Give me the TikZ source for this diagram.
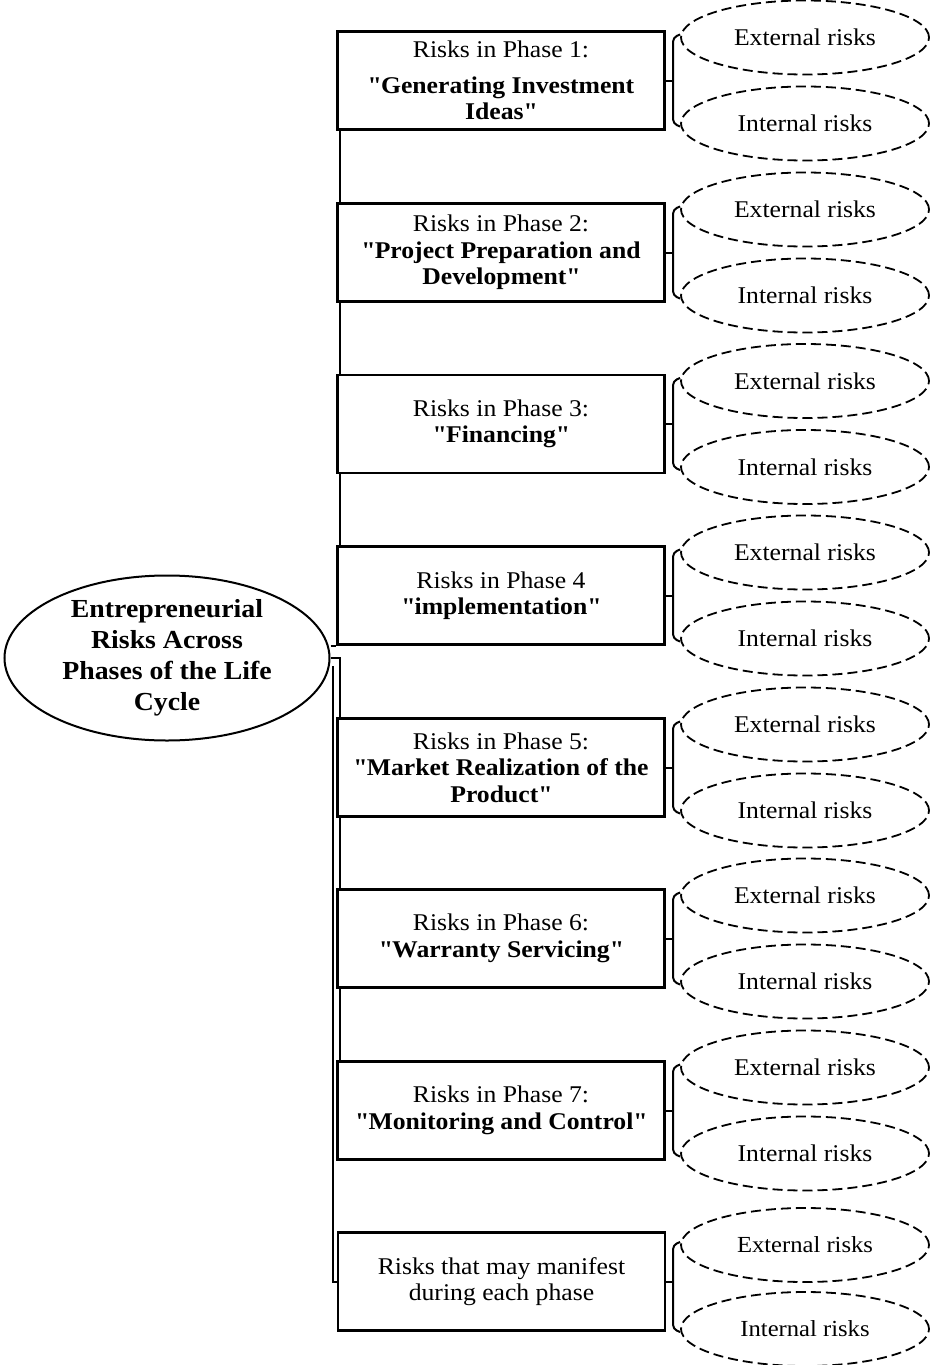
\documentclass[tikz,border=0pt]{standalone}
\usepackage{fontspec}
\setmainfont[FakeStretch=1.07]{Liberation Serif}
\usetikzlibrary{shapes.geometric,calc}
\newcommand\fsbox{\fontsize{24}{26.5}\selectfont}
\newcommand\fsmain{\fontsize{26}{31}\selectfont\bfseries}
\newcommand\fsrisk{\fontsize{24}{26}\selectfont}
\newcommand\fsriskb{\fontsize{23}{26}\selectfont}
\newcommand\dq{\XeTeXglyph\XeTeXcharglyph"22\relax}
\tikzset{
  phasebox/.style={draw, line width=2.2pt, minimum width=327pt, minimum height=98pt, inner sep=0pt, align=center, font=\fsbox},
  riskell/.style={draw, ellipse, dash pattern=on 10pt off 5pt, line width=1.8pt, minimum width=248pt, minimum height=74pt, inner sep=0pt, font=\fsrisk},
  mainell/.style={draw, ellipse, line width=2pt, minimum width=325pt, minimum height=165pt, inner sep=0pt, align=center, font=\fsmain},
  conn/.style={line width=2pt},
  br/.style={line width=2pt, rounded corners=4pt}
}
\begin{document}
\begin{tikzpicture}[x=1pt,y=-1pt]
\clip (0,0) rectangle (933,1365);
\fill[white] (0,0) rectangle (933,1365);

\node[mainell] (main) at (167,658) {Entrepreneurial\\Risks Across\\Phases of the Life\\Cycle};

\node[phasebox] (b1) at (501,80.5) {Risks in Phase 1:\\[9pt]\textbf{\dq Generating Investment}\\\textbf{Ideas\dq}};
\node[phasebox] (b2) at (501,252.5) {Risks in Phase 2:\\\textbf{\dq Project Preparation and}\\\textbf{Development\dq}};
\node[phasebox] (b3) at (501,424) {Risks in Phase 3:\\\textbf{\dq Financing\dq}};
\node[phasebox] (b4) at (501,595.5) {Risks in Phase 4\\\textbf{\dq implementation\dq}};
\node[phasebox] (b5) at (501,767.5) {Risks in Phase 5:\\\textbf{\dq Market Realization of the}\\\textbf{Product\dq}};
\node[phasebox] (b6) at (501,938.5) {Risks in Phase 6:\\\textbf{\dq Warranty Servicing\dq}};
\node[phasebox] (b7) at (501,1110.5) {Risks in Phase 7:\\\textbf{\dq Monitoring and Control\dq}};
\node[phasebox] (b8) at (501.5,1281.5) {Risks that may manifest\\during each phase};

\foreach \i/\y in {1/80.5,2/252.5,3/424,4/595.5,5/767.5,6/938.5,7/1110.5} {
  \node[riskell] (e\i) at (805,\y-43) {External risks};
  \node[riskell] (i\i) at (805,\y+43) {Internal risks};
}
\node[riskell, font=\fsriskb] (e8) at (805,1245) {External risks};
\node[riskell, font=\fsriskb] (i8) at (805,1329) {Internal risks};

\foreach \i in {1,...,8} {
  \draw[conn] (b\i.east) -- ([xshift=-7pt]e\i.west |- b\i.east);
  \draw[br] ([yshift=3pt]e\i.west) -- ([xshift=-7pt]e\i.west) -- ([xshift=-7pt]i\i.west) -- ([yshift=-3pt]i\i.west);
}

% spine between phase boxes
\foreach \a/\b in {1/2,2/3,3/4,5/6,6/7} {
  \draw[conn] ([xshift=4pt]b\a.south west) -- ([xshift=4pt]b\b.north west);
}
\coordinate (j5) at ([xshift=4pt]b5.north west);
\draw[conn] (main.east |- b4.south west) -- (b4.south west);
\draw[conn] (main.east) -| (j5);
\draw[conn] ([xshift=2pt,yshift=-8pt]main.east) -- ([xshift=2pt]main.east |- b8.west) -- (b8.west);
\end{tikzpicture}
\end{document}
